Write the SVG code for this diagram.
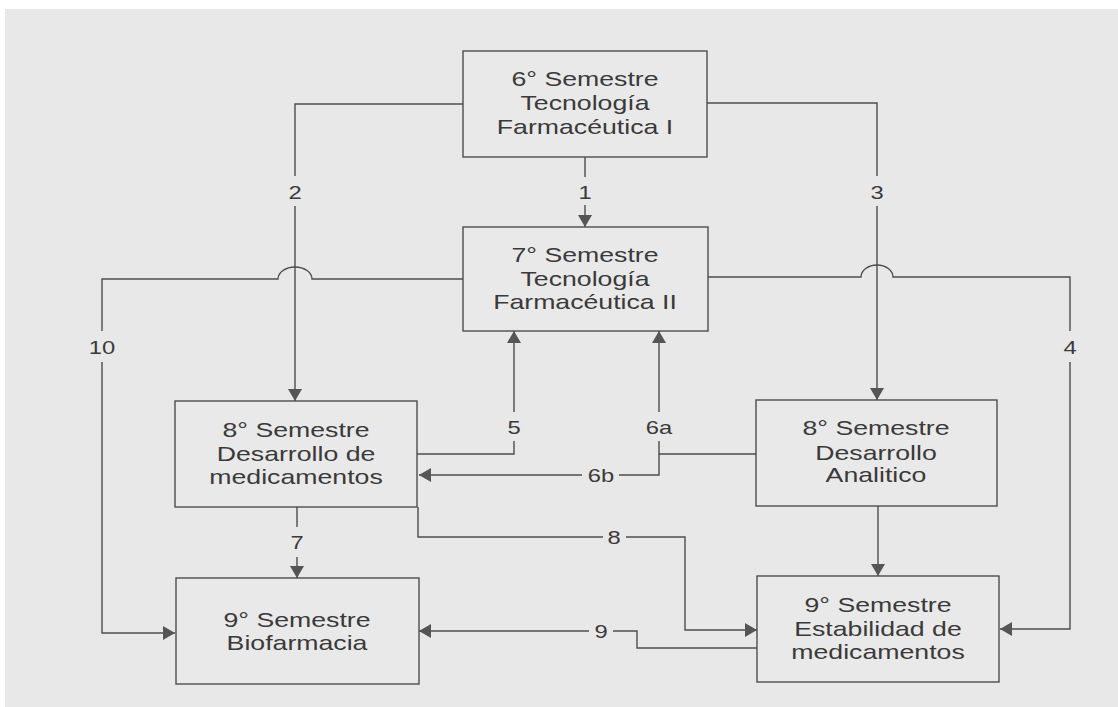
<svg xmlns="http://www.w3.org/2000/svg" width="1118" height="707" viewBox="0 0 1118 707">
<style>
.bg{fill:#ffffff}
.page{fill:#e9e8e8}
.box{fill:#eae9e9;stroke:#4d4d4d;stroke-width:1.4}
.nt{font-family:"Liberation Sans",Arial,sans-serif;font-size:21px;fill:#3a3a3a;text-anchor:middle}
.lb{font-family:"Liberation Sans",Arial,sans-serif;font-size:19px;fill:#3a3a3a;text-anchor:middle}
.ln{fill:none;stroke:#4d4d4d;stroke-width:1.4}
</style>
<defs>
<marker id="ah" viewBox="0 0 12 14" refX="12" refY="7" markerWidth="12" markerHeight="14" orient="auto" markerUnits="userSpaceOnUse">
<path d="M0,0 L12,7 L0,14 Z" fill="#555555"/>
</marker>
</defs>
<rect class="bg" x="0" y="0" width="1118" height="707"/>
<rect class="page" x="5" y="9" width="1113" height="698"/>

<g id="connectors">
<path class="ln" d="M585,157 V177 M585,205 V227" marker-end="url(#ah)"/>
<path class="ln" d="M463,104 H295 V176 M295,206 V401" marker-end="url(#ah)"/>
<path class="ln" d="M707,103 H877 V176 M877,206 V400" marker-end="url(#ah)"/>
<path class="ln" d="M708,277 H861 A16,12 0 0 1 893,277 H1070 V331 M1070,362 V629 H1000" marker-end="url(#ah)"/>
<path class="ln" d="M463,279 H312 A17,12 0 0 0 278,279 H102 V331 M102,362 V633 H175" marker-end="url(#ah)"/>
<path class="ln" d="M417,454 H514 V441 M514,412 V331" marker-end="url(#ah)"/>
<path class="ln" d="M756,454 H659 V441 M659,412 V331" marker-end="url(#ah)"/>
<path class="ln" d="M659,454 V475 H619 M582,475 H419" marker-end="url(#ah)"/>
<path class="ln" d="M297,507 V527 M297,557 V578" marker-end="url(#ah)"/>
<path class="ln" d="M418,507 V537 H603 M626,537 H685 V630 H757" marker-end="url(#ah)"/>
<path class="ln" d="M757,648 H637 V631 H613 M589,631 H419" marker-end="url(#ah)"/>
<path class="ln" d="M878,506 V576" marker-end="url(#ah)"/>
<text class="lb" transform="translate(585 0) scale(1.25 1)" x="0" y="199">1</text>
<text class="lb" transform="translate(295 0) scale(1.25 1)" x="0" y="199">2</text>
<text class="lb" transform="translate(877 0) scale(1.25 1)" x="0" y="199">3</text>
<text class="lb" transform="translate(1070 0) scale(1.25 1)" x="0" y="354">4</text>
<text class="lb" transform="translate(102 0) scale(1.25 1)" x="0" y="354">10</text>
<text class="lb" transform="translate(514 0) scale(1.25 1)" x="0" y="434">5</text>
<text class="lb" transform="translate(659 0) scale(1.25 1)" x="0" y="434">6a</text>
<text class="lb" transform="translate(601 0) scale(1.25 1)" x="0" y="482">6b</text>
<text class="lb" transform="translate(297 0) scale(1.25 1)" x="0" y="549">7</text>
<text class="lb" transform="translate(614 0) scale(1.25 1)" x="0" y="544">8</text>
<text class="lb" transform="translate(601 0) scale(1.25 1)" x="0" y="638">9</text>
</g>

<g id="node-6-tf1">
<rect class="box" x="463" y="51" width="244" height="106"/>
<text class="nt" transform="translate(585 0) scale(1.27 1)"><tspan x="0" y="86">6° Semestre</tspan><tspan x="0" y="110">Tecnología</tspan><tspan x="0" y="134">Farmacéutica I</tspan></text>
</g>

<g id="node-7-tf2">
<rect class="box" x="463" y="227" width="245" height="104"/>
<text class="nt" transform="translate(585 0) scale(1.27 1)"><tspan x="0" y="262">7° Semestre</tspan><tspan x="0" y="286">Tecnología</tspan><tspan x="0" y="309">Farmacéutica II</tspan></text>
</g>

<g id="node-8-dm">
<rect class="box" x="175" y="401" width="242" height="106"/>
<text class="nt" transform="translate(296 0) scale(1.27 1)"><tspan x="0" y="437">8° Semestre</tspan><tspan x="0" y="461">Desarrollo de</tspan><tspan x="0" y="484">medicamentos</tspan></text>
</g>

<g id="node-8-da">
<rect class="box" x="756" y="400" width="241" height="106"/>
<text class="nt" transform="translate(876 0) scale(1.27 1)"><tspan x="0" y="435">8° Semestre</tspan><tspan x="0" y="460">Desarrollo</tspan><tspan x="0" y="482">Analitico</tspan></text>
</g>

<g id="node-9-bio">
<rect class="box" x="176" y="578" width="243" height="106"/>
<text class="nt" transform="translate(297 0) scale(1.27 1)"><tspan x="0" y="627">9° Semestre</tspan><tspan x="0" y="650">Biofarmacia</tspan></text>
</g>

<g id="node-9-em">
<rect class="box" x="757" y="576" width="242" height="106"/>
<text class="nt" transform="translate(878 0) scale(1.27 1)"><tspan x="0" y="612">9° Semestre</tspan><tspan x="0" y="636">Estabilidad de</tspan><tspan x="0" y="659">medicamentos</tspan></text>
</g>
</svg>
